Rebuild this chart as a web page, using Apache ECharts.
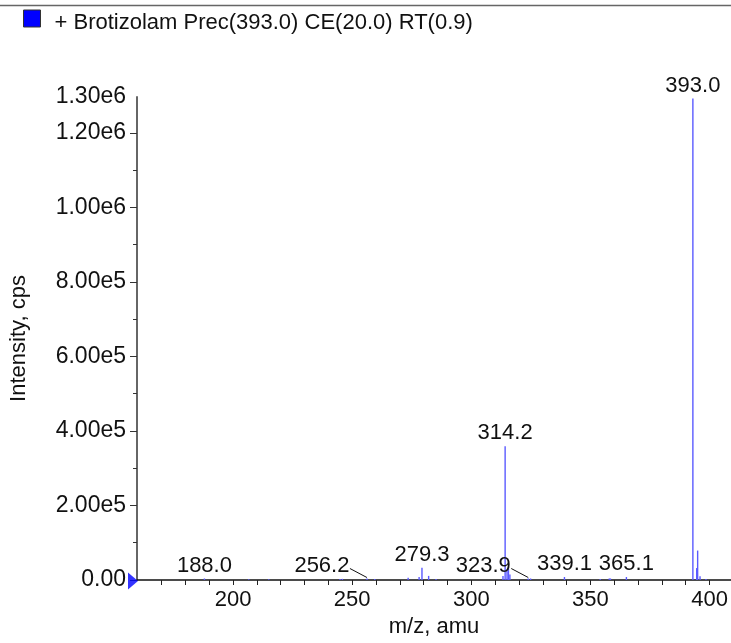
<!DOCTYPE html>
<html>
<head>
<meta charset="utf-8">
<script src="https://cdn.jsdelivr.net/npm/echarts@6.0.0/dist/echarts.min.js"></script>
<style>
  html, body { margin: 0; padding: 0; background: #fff; }
  #chart { width: 731px; height: 643px; }
</style>
</head>
<body>
<div id="chart"></div>
<script>
// ---- data ----
const seriesName = '+ Brotizolam Prec(393.0) CE(20.0) RT(0.9)';
const peakMz = [188.0, 206.6, 215.0, 244.9, 245.9, 256.2, 259.5, 273.5, 278.1, 279.3, 282.1, 285.2,
                313.3, 314.2, 315.0, 315.6, 316.2, 323.9, 324.9, 339.1, 354.1, 357.9, 358.4, 365.1,
                393.0, 394.6, 395.0, 396.0, 398.5];
const peakIntensity = [4000, 2000, 2000, 3000, 3000, 4000, 3000, 6000, 8000, 33000, 11000, 3000,
                       11000, 359000, 26000, 30000, 15000, 4000, 4000, 8000, 3000, 4000, 4000, 8000,
                       1292000, 32000, 79000, 10000, 3000];
const labelMz = [188.0, 256.2, 279.3, 314.2, 323.9, 339.1, 365.1, 393.0];
const labelText = ['188.0', '256.2', '279.3', '314.2', '323.9', '339.1', '365.1', '393.0'];
const xTickLabels = [200, 250, 300, 350, 400];
const xMinorTicks = [170, 180, 190, 200, 210, 220, 230, 240, 250, 260, 270, 280, 290, 300, 310, 320, 330, 340, 350, 360, 370, 380, 390, 400];
const yTickValues = [0, 200000, 400000, 600000, 800000, 1000000, 1200000];
const xRange = [159.7, 409];
const yRange = [0, 1296000];

// ---- build ----
const peakData = peakMz.map((m, i) => [m, peakIntensity[i]]);
const labelData = labelMz.map((m, i) => {
  const idx = peakMz.indexOf(m);
  return [m, peakIntensity[idx], labelText[i]];
});
// labels drawn beside their peak with a leader line (pixel shift)
const leaderShift = { '256.2': -45, '323.9': -45 };

function fmtY(v) {
  if (v === 0) return '0.00';
  return v.toExponential(2).replace('e+', 'e');
}

const FONT = 'Liberation Sans, Arial, Helvetica, sans-serif';
const chart = echarts.init(document.getElementById('chart'));

const option = {
  animation: false,
  backgroundColor: '#fff',
  textStyle: { fontFamily: FONT },
  graphic: [{
    type: 'line', shape: { x1: 0, y1: 5.5, x2: 731, y2: 5.5 },
    style: { stroke: '#666', lineWidth: 1.5 }, silent: true
  }],
  legend: {
    data: [seriesName],
    left: 23, top: 9.5, padding: 0,
    itemWidth: 17, itemHeight: 17,
    icon: 'rect',
    itemStyle: { borderColor: '#333', borderWidth: 1 },
    formatter: n => '{s|}' + n,
    textStyle: {
      fontSize: 22, color: '#111', fontFamily: FONT,
      padding: [8, 0, 0, 0],
      rich: { s: { width: 9 } }
    }
  },
  grid: { left: 136, right: 0, top: 97, bottom: 58, containLabel: false },
  xAxis: [{
    type: 'value', min: xRange[0], max: xRange[1],
    name: 'm/z, amu', nameLocation: 'middle', nameGap: 36,
    nameTextStyle: { fontSize: 22, color: '#111', fontFamily: FONT },
    axisLine: { show: true, onZero: false, lineStyle: { color: '#111', width: 1.5 } },
    axisTick: { show: true, inside: false, length: 5, customValues: xMinorTicks, lineStyle: { color: '#222', width: 1 } },
    axisLabel: { show: true, customValues: xTickLabels, fontSize: 22, color: '#111', margin: 9, fontFamily: FONT },
    splitLine: { show: false }
  }],
  yAxis: [{
    type: 'value', min: yRange[0], max: yRange[1], interval: 200000,
    name: 'Intensity, cps', nameLocation: 'middle', nameGap: 107,
    nameTextStyle: { fontSize: 22, color: '#111', fontFamily: FONT },
    axisLine: { show: true, lineStyle: { color: '#666', width: 2 } },
    axisTick: { show: true, length: 7, customValues: yTickValues, lineStyle: { color: '#333', width: 1 } },
    minorTick: { show: true, splitNumber: 2, length: 4, lineStyle: { color: '#333', width: 1 } },
    axisLabel: { show: true, fontSize: 23, color: '#111', margin: 11, formatter: fmtY, fontFamily: FONT,
                 showMinLabel: true, showMaxLabel: true },
    splitLine: { show: false }
  }],
  series: [
    {
      name: seriesName,
      type: 'custom',
      coordinateSystem: 'cartesian2d',
      itemStyle: { color: '#0000ff' },
      encode: { x: 0, y: 1 },
      clip: true,
      data: peakData,
      renderItem: function (params, api) {
        const x = api.value(0), y = api.value(1);
        const p0 = api.coord([x, 0]);
        const p1 = api.coord([x, y]);
        return {
          type: 'line',
          shape: { x1: p0[0], y1: p0[1], x2: p1[0], y2: p1[1] },
          style: { stroke: '#5a5aff', lineWidth: 1.4 }
        };
      }
    },
    {
      name: 'labels',
      type: 'custom',
      coordinateSystem: 'cartesian2d',
      encode: { x: 0, y: 1 },
      silent: true,
      data: labelData,
      renderItem: function (params, api) {
        const x = api.value(0), y = api.value(1);
        const txt = labelData[params.dataIndex][2];
        const p1 = api.coord([x, y]);
        const dx = leaderShift[txt] || 0;
        const children = [{
          type: 'text',
          x: p1[0] + dx, y: p1[1] - 2,
          style: {
            text: txt, fontSize: 22, fill: '#111', fontFamily: FONT,
            align: 'center', verticalAlign: 'bottom'
          }
        }];
        if (dx) {
          children.push({
            type: 'line',
            shape: { x1: p1[0] + dx + 28, y1: p1[1] - 10, x2: p1[0], y2: p1[1] - 1 },
            style: { stroke: '#111', lineWidth: 1 }
          });
        }
        return { type: 'group', children: children };
      }
    },
    {
      name: 'marker',
      type: 'scatter',
      clip: false,
      silent: true,
      data: [[xRange[0], 0]],
      symbol: 'triangle',
      symbolSize: [17, 10],
      symbolRotate: -90,
      symbolOffset: [-4, 1],
      itemStyle: { color: '#0000ff' },
      z: 5
    }
  ]
};
chart.setOption(option);
</script>
</body>
</html>
